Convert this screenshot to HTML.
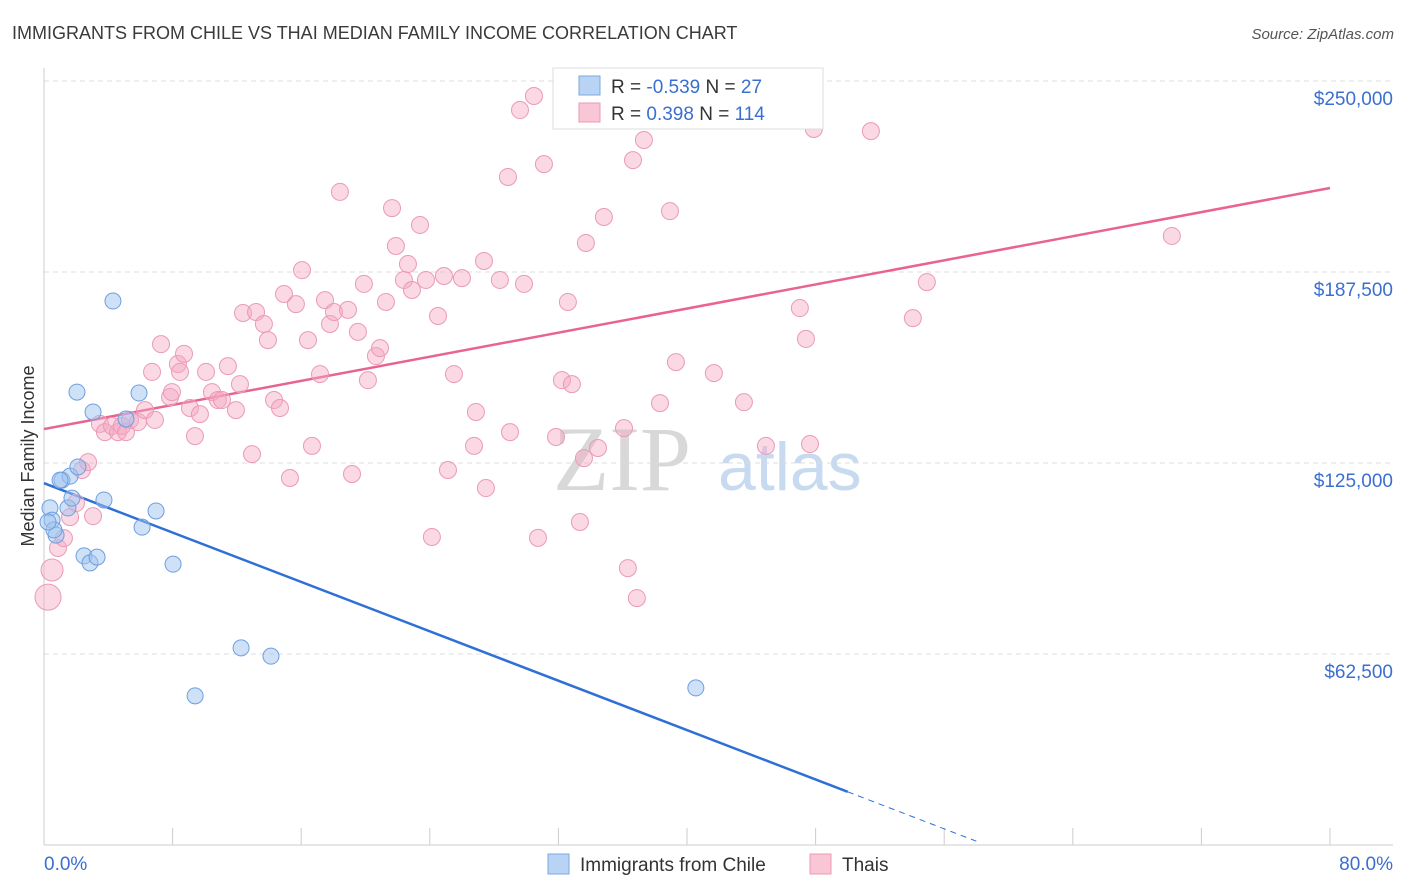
<!DOCTYPE html>
<html><head><meta charset="utf-8"><style>
body{margin:0;background:#fff;font-family:"Liberation Sans",sans-serif}
svg{display:block}
</style></head><body>
<svg id="c" width="1406" height="892" xmlns="http://www.w3.org/2000/svg">
<text x="12" y="39" font-size="18" fill="#3a3a3a">IMMIGRANTS FROM CHILE VS THAI MEDIAN FAMILY INCOME CORRELATION CHART</text>
<text x="1394" y="39" font-size="15" fill="#555" text-anchor="end" font-style="italic">Source: ZipAtlas.com</text>
<text x="34" y="456" font-size="18" fill="#333" text-anchor="middle" transform="rotate(-90 34 456)">Median Family Income</text>
<g>
<text x="553" y="490" font-size="92" fill="#d8d8d8" font-family="Liberation Serif,serif">ZIP</text>
<text x="718" y="490" font-size="68" fill="#c8daf0">atlas</text>
</g>
<g id="grid"></g><g id="axes"></g><g id="lines"></g><g id="pts"></g>
<g>
<rect x="553" y="68" width="270" height="61" fill="#fff" stroke="#ddd"/>
<rect x="579" y="76" width="21" height="19" fill="#b8d3f4" stroke="#7aa8e0"/>
<rect x="579" y="103" width="21" height="19" fill="#f9c6d6" stroke="#ec9ab6"/>
<text x="611" y="93" font-size="19" fill="#333">R = <tspan fill="#3a6fd0">-0.539</tspan>   N =  <tspan fill="#3a6fd0">27</tspan></text>
<text x="611" y="120" font-size="19" fill="#333">R =  <tspan fill="#3a6fd0"> 0.398</tspan>   N = <tspan fill="#3a6fd0">114</tspan></text>
</g>
<g>
<rect x="548" y="854" width="21" height="20" fill="#b8d3f4" stroke="#7aa8e0"/>
<text x="580" y="871" font-size="19" fill="#333">Immigrants from Chile</text>
<rect x="810" y="854" width="21" height="20" fill="#f9c6d6" stroke="#ec9ab6"/>
<text x="842" y="871" font-size="19" fill="#333">Thais</text>
</g>
</svg>
<script>
const yTicks=[62500,125000,187500,250000];
const yTickLabels=["$62,500","$125,000","$187,500","$250,000"];
const xTickLabels=["0.0%","80.0%"];
const chileX=[0.37,0.5,0.75,1.12,1.62,1.49,2.11,1.74,2.49,2.86,3.3,3.73,2.05,3.05,4.29,5.1,5.91,6.1,6.97,8.03,9.4,12.26,14.12,40.55,0.62,1.0,0.25];
const chileY=[110.3,106.3,101.4,119.4,120.7,110.3,123.7,113.5,94.6,92.3,94.2,112.9,148.2,141.7,178,139.4,147.9,104,109.3,91.9,48.8,64.5,61.8,51.4,103.1,119.4,105.7];
const thaiX=[0.25,0.5,0.87,1.24,1.62,1.99,2.36,2.74,3.05,3.48,3.79,4.23,4.6,4.85,5.1,5.35,5.85,6.28,6.9,6.72,7.28,7.84,7.96,8.33,8.46,8.71,9.08,9.39,9.7,10.08,10.45,10.82,11.07,11.44,11.94,12.19,12.38,12.94,13.19,13.68,13.93,14.31,14.68,14.93,15.3,15.67,16.05,16.42,16.67,17.17,17.48,17.79,18.04,18.41,18.91,19.16,19.53,19.9,20.15,20.65,20.9,21.27,21.65,21.89,22.39,22.64,22.89,23.39,23.76,24.13,24.51,24.88,25.13,25.5,26,26.87,26.75,27.37,27.49,28.36,28.86,28.99,29.61,29.86,30.48,30.73,31.1,31.85,32.22,32.59,32.84,33.34,33.59,33.71,34.46,34.83,36.08,36.32,36.64,36.88,37.32,38.32,38.94,39.31,41.67,43.54,44.91,47.02,47.4,47.65,47.89,51.44,54.05,54.92,70.16];
const thaiY=[81.1,90,97.2,100.4,107.3,111.9,122.7,125.3,107.6,137.8,135.1,137.1,135.1,137.1,135.1,139.1,138.4,142.3,139.1,154.8,163.9,146.6,148.2,157.4,154.8,160.7,143,133.8,141,154.8,148.2,145.6,145.6,156.7,142.3,150.8,174.1,127.9,174.4,170.5,165.2,145.6,143,180.3,120.1,177,188.1,165.2,130.6,154.1,178.3,170.5,174.4,213.7,175.1,121.4,167.9,183.6,152.1,160,162.6,177.7,208.4,196,184.9,190.1,181.6,202.9,184.9,100.8,173.1,186.2,122.7,154.1,185.5,141.7,130.6,191.1,116.8,184.9,218.6,135.1,240.5,183.6,245.1,100.5,222.8,133.5,152.1,177.7,150.8,105.7,126.6,197,129.9,205.5,136.4,90.6,224.1,80.8,230.7,144.6,207.4,158,154.4,144.9,130.6,175.7,165.6,131.2,234.3,233.6,172.4,184.2,199.3];
const thaiR=[13,11];
const chileFit=[118.4,-2.02]; // intercept (k$), slope per %
const thaiFit=[136.1,0.986];
const NS="http://www.w3.org/2000/svg";
const X=v=>44+v/80*1286;
const Y=v=>845-v/62.5*191;
function mk(p,t,a){const e=document.createElementNS(NS,t);for(const k in a)e.setAttribute(k,a[k]);document.getElementById(p).appendChild(e);return e;}
yTicks.forEach((t,i)=>{
 const g=mk('grid','line',{x1:44,x2:1393,y1:Y(t/1000),y2:Y(t/1000),stroke:'#ddd','stroke-dasharray':'5,4'});
 
 
 const l=mk('axes','text',{x:1393,y:Y(t/1000)+24,'font-size':19,fill:'#3a6fd0','text-anchor':'end'});
 l.textContent=yTickLabels[i];
 
 
});
const ax=mk('axes','line',{x1:44,x2:1393,y1:845,y2:845,stroke:'#ccc'});


const ay=mk('axes','line',{x1:44,x2:44,y1:68,y2:845,stroke:'#ccc'});


for(let i=0;i<=10;i++){const t=mk('axes','line',{x1:X(i*8),x2:X(i*8),y1:828,y2:845,stroke:'#ccc'});
 
 }
[[0,44,'start'],[80,1393,'end']].forEach((d,i)=>{const l=mk('axes','text',{x:d[1],y:870,'font-size':19,fill:'#3a6fd0','text-anchor':d[2]});l.textContent=xTickLabels[i];
 
 });
const f=(c,x)=>c[0]+c[1]*x;
let e=mk('lines','line',{x1:X(0),y1:Y(f(chileFit,0)),x2:X(50),y2:Y(f(chileFit,50)),stroke:'#2f6fd6','stroke-width':2.5});


e=mk('lines','line',{x1:X(50),y1:Y(f(chileFit,50)),x2:X(58),y2:Y(f(chileFit,58)),stroke:'#2f6fd6','stroke-width':1,'stroke-dasharray':'6,5'});


e=mk('lines','line',{x1:X(0),y1:Y(f(thaiFit,0)),x2:X(80),y2:Y(f(thaiFit,80)),stroke:'#e8648e','stroke-width':2.5});


thaiX.forEach((x,i)=>{const c=mk('pts','circle',{cx:X(x),cy:Y(thaiY[i]),r:thaiR[i]||8.5,fill:'rgba(244,168,196,0.45)',stroke:'#eb9ab6','stroke-width':1});
 
 });
chileX.forEach((x,i)=>{const c=mk('pts','circle',{cx:X(x),cy:Y(chileY[i]),r:8,fill:'rgba(160,196,240,0.5)',stroke:'#6d9fe0','stroke-width':1});
 
 });
</script>
</body></html>
